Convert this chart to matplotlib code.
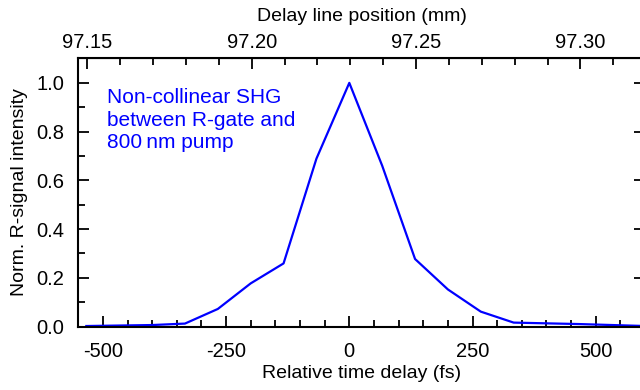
import numpy as np
import matplotlib
matplotlib.use("Agg")
import matplotlib.pyplot as plt
from matplotlib.ticker import MultipleLocator, FormatStrFormatter

plt.rcParams['font.family'] = ['Liberation Sans', 'DejaVu Sans']
plt.rcParams['font.size'] = 14
plt.rcParams['axes.unicode_minus'] = False

# delay steps of 10 um on the delay line (~66.7 fs round trip)
step_fs = 66.71
steps = [-8, -7, -6, -5, -4, -3, -2, -1, 0, 1, 2, 3, 4, 5, 6, 7, 8, 9]
intensity = [0.002, 0.004, 0.006, 0.012, 0.072, 0.177, 0.259, 0.689, 1.0,
             0.66, 0.277, 0.152, 0.061, 0.016, 0.013, 0.010, 0.006, 0.002]
delay_fs = [k * step_fs for k in steps]

# relative delay (fs) <-> delay line position (mm)
zero_mm = 97.2297
mm_per_fs = 1.499e-4


def fs2mm(x):
    return zero_mm + np.asarray(x) * mm_per_fs


def mm2fs(m):
    return (np.asarray(m) - zero_mm) / mm_per_fs


fig = plt.figure(figsize=(6.4, 3.9), dpi=100)
ax = fig.add_axes([0.1223, 0.1628, 0.8855, 0.6872])

ax.plot(delay_fs, intensity, color='#0000ff', lw=1.6)

ax.set_xlim(-550, 600)
ax.set_ylim(0, 1.1)
ax.xaxis.set_major_locator(MultipleLocator(250))
ax.xaxis.set_minor_locator(MultipleLocator(50))
ax.yaxis.set_major_locator(MultipleLocator(0.2))
ax.yaxis.set_minor_locator(MultipleLocator(0.1))
ax.yaxis.set_major_formatter(FormatStrFormatter('%.1f'))

ax.tick_params(which='both', direction='in', width=1.3, top=False, right=True,
               labelsize=14.5)
ax.tick_params(which='major', length=8)
ax.tick_params(which='minor', length=5)
ax.tick_params(axis='x', which='major', pad=11)
ax.tick_params(axis='y', which='major', pad=10)
ax.tick_params(axis='y', which='minor', right=False)
for s in ax.spines.values():
    s.set_linewidth(1.5)

ax.set_xlabel('Relative time delay (fs)', labelpad=3)
ax.set_ylabel('Norm. R-signal intensity', labelpad=6)

top = ax.secondary_xaxis('top', functions=(fs2mm, mm2fs))
top.set_xticks([97.15, 97.20, 97.25, 97.30])
top.set_xticks(np.arange(97.15, 97.315, 0.01), minor=True)
top.xaxis.set_major_formatter(FormatStrFormatter('%.2f'))
top.tick_params(which='both', direction='in', width=1.3, labelsize=14.5)
top.tick_params(which='major', length=8, pad=5)
top.tick_params(which='minor', length=5)
top.set_xlabel('Delay line position (mm)', labelpad=8)

ax.text(0.051, 0.89, 'Non-collinear SHG\nbetween R-gate and\n800\u2009nm pump',
        transform=ax.transAxes, color='#0000ff', va='top', ha='left',
        fontsize=15, linespacing=1.25)

fig.savefig('out.png', dpi=100)
